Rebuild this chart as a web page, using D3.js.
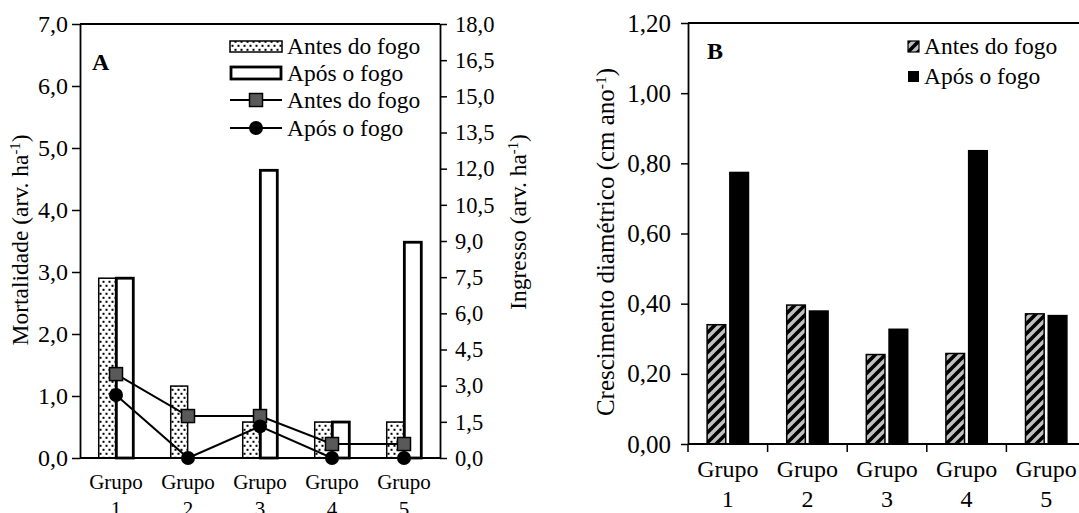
<!DOCTYPE html>
<html>
<head>
<meta charset="utf-8">
<script src="https://cdn.jsdelivr.net/npm/d3@7"></script>
<style>
  body { margin: 0; background: #fff; }
  svg { display: block; }
  svg text { font-family: "Liberation Serif", Tinos, "Times New Roman", "DejaVu Serif", serif; fill: #000; }
</style>
</head>
<body>
<svg id="chart" width="1079" height="513"></svg>
<script>
// Groups shared by both panels
const groups = ["Grupo 1", "Grupo 2", "Grupo 3", "Grupo 4", "Grupo 5"];
const periods = ["Antes do fogo", "Após o fogo"];

// Panel A – mortality (bars, left axis) and recruitment (lines, right axis), trees per ha
const mortalidadeAntes = [2.90, 1.16, 0.58, 0.58, 0.58];
const mortalidadeApos  = [2.90, 0.00, 4.64, 0.58, 3.48];
const ingressoAntes    = [3.48, 1.74, 1.74, 0.58, 0.58];
const ingressoApos     = [2.61, 0.00, 1.31, 0.00, 0.00];

// Panel B – diameter growth, cm per year
const crescimentoAntes = [0.340, 0.396, 0.255, 0.258, 0.371];
const crescimentoApos  = [0.774, 0.379, 0.327, 0.836, 0.366];

// Axis ticks
const mortalidadeTicks = [0, 1, 2, 3, 4, 5, 6, 7];
const ingressoTicks    = [0, 1.5, 3, 4.5, 6, 7.5, 9, 10.5, 12, 13.5, 15, 16.5, 18];
const crescimentoTicks = [0, 0.2, 0.4, 0.6, 0.8, 1.0, 1.2];

const FONT = '"Liberation Serif", Tinos, "Times New Roman", "DejaVu Serif", serif';
const svg = d3.select("#chart").attr("font-family", FONT);
const comma = d => String(d).replace(".", ",");
const fmt1 = v => comma(d3.format(".1f")(v));
const fmt2 = v => comma(d3.format(".2f")(v));

const defs = svg.append("defs");
// dotted fill for "Antes do fogo" bars in panel A
const dots = defs.append("pattern").attr("id", "dots").attr("patternUnits", "userSpaceOnUse")
  .attr("width", 6).attr("height", 8);
dots.append("rect").attr("width", 6).attr("height", 8).attr("fill", "#fff");
dots.append("rect").attr("x", 0.5).attr("y", 0.8).attr("width", 2).attr("height", 2).attr("fill", "#000");
dots.append("rect").attr("x", 3.5).attr("y", 4.8).attr("width", 2).attr("height", 2).attr("fill", "#000");
// diagonal hatch for "Antes do fogo" bars in panel B
const hatch = defs.append("pattern").attr("id", "hatch").attr("patternUnits", "userSpaceOnUse")
  .attr("width", 10).attr("height", 10);
hatch.append("rect").attr("width", 10).attr("height", 10).attr("fill", "#c0c0c0");
hatch.append("path").attr("d", "M-2,12 L12,-2 M-7,7 L7,-7 M3,17 L17,3")
  .attr("stroke", "#000").attr("stroke-width", 3.6);

const FS = 23.5;

function twoLineLabels(g, x, yTop, lineGap, size) {
  groups.forEach(name => {
    const parts = name.split(" ");
    const cx = x(name) + x.bandwidth() / 2;
    const t = g.append("text").attr("text-anchor", "middle").attr("font-size", size)
      .attr("font-family", FONT).attr("x", cx).attr("y", yTop);
    t.append("tspan").attr("x", cx).text(parts[0]);
    t.append("tspan").attr("x", cx).attr("dy", lineGap).text(parts[1]);
  });
}

function styleAxis(sel, size) {
  sel.attr("font-family", FONT);
  sel.selectAll(".domain").attr("stroke", "#000").attr("stroke-width", 1.8);
  sel.selectAll(".tick line").attr("stroke", "#000").attr("stroke-width", 1.5);
  sel.selectAll(".tick text").attr("font-size", size).attr("font-family", FONT);
}

function axisTitle(x, y, main, tail, size) {
  const t = svg.append("text").attr("transform", `translate(${x},${y}) rotate(-90)`)
    .attr("text-anchor", "middle").attr("font-size", size).attr("font-family", FONT);
  t.append("tspan").text(main);
  t.append("tspan").attr("dy", -8).attr("font-size", size * 0.62).text("-1");
  t.append("tspan").attr("dy", 8).text(tail);
}

function label(g, x, y, txt, size, bold) {
  return g.append("text").attr("x", x).attr("y", y).attr("font-size", size)
    .attr("font-family", FONT).attr("font-weight", bold ? "bold" : null).text(txt);
}

// ---------------- Panel A ----------------
(function panelA() {
  const left = 80, right = 440, top = 24, bottom = 458;
  const x0 = d3.scaleBand().domain(groups).range([left, right]).paddingInner(0.52).paddingOuter(0.26);
  const x1 = d3.scaleBand().domain(periods).range([0, x0.bandwidth()]).paddingInner(0.04);
  const yL = d3.scaleLinear().domain([0, 7]).range([bottom, top]);
  const yR = d3.scaleLinear().domain([0, 18]).range([bottom, top]);
  const g = svg.append("g");

  // bars
  const bars = groups.map((grp, i) => [
    { grp, period: periods[0], v: mortalidadeAntes[i] },
    { grp, period: periods[1], v: mortalidadeApos[i] }
  ]).flat().filter(d => d.v > 0);
  g.selectAll("rect.bar").data(bars).join("rect")
    .attr("x", d => x0(d.grp) + x1(d.period))
    .attr("y", d => yL(d.v))
    .attr("width", x1.bandwidth())
    .attr("height", d => bottom - yL(d.v))
    .attr("fill", d => d.period === periods[0] ? "url(#dots)" : "#fff")
    .attr("stroke", "#000")
    .attr("stroke-width", d => d.period === periods[0] ? 1.5 : 2.8);

  // frame: top border and baseline
  g.append("line").attr("x1", left).attr("x2", right).attr("y1", top).attr("y2", top)
    .attr("stroke", "#000").attr("stroke-width", 1.8);
  g.append("line").attr("x1", left).attr("x2", right).attr("y1", bottom).attr("y2", bottom)
    .attr("stroke", "#000").attr("stroke-width", 1.8);

  const axL = g.append("g").attr("transform", `translate(${left},0)`)
    .call(d3.axisLeft(yL).tickValues(mortalidadeTicks).tickFormat(fmt1).tickSize(8).tickSizeOuter(0).tickPadding(4));
  styleAxis(axL, 24);
  const axR = g.append("g").attr("transform", `translate(${right},0)`)
    .call(d3.axisRight(yR).tickValues(ingressoTicks).tickFormat(fmt1).tickSize(7).tickSizeOuter(0).tickPadding(8));
  styleAxis(axR, 22.5);

  // recruitment lines
  const cx = grp => x0(grp) + x0.bandwidth() / 2;
  const line = d3.line().x(d => cx(d.grp)).y(d => yR(d.v));
  const sA = groups.map((grp, i) => ({ grp, v: ingressoAntes[i] }));
  const sP = groups.map((grp, i) => ({ grp, v: ingressoApos[i] }));
  g.append("path").datum(sA).attr("d", line).attr("fill", "none").attr("stroke", "#000").attr("stroke-width", 2);
  g.append("path").datum(sP).attr("d", line).attr("fill", "none").attr("stroke", "#000").attr("stroke-width", 2);
  g.selectAll("rect.sq").data(sA).join("rect")
    .attr("x", d => cx(d.grp) - 6.5).attr("y", d => yR(d.v) - 6.5)
    .attr("width", 13).attr("height", 13)
    .attr("fill", "#595959").attr("stroke", "#000").attr("stroke-width", 1.5);
  g.selectAll("circle.pt").data(sP).join("circle")
    .attr("cx", d => cx(d.grp)).attr("cy", d => yR(d.v)).attr("r", 7).attr("fill", "#000");

  twoLineLabels(g, x0, 489, 27, 21);

  label(g, 92, 70, "A", 24, true);

  // legend
  const lx = 230, lw = 52, tx = 287;
  const lg = g.append("g");
  lg.append("rect").attr("x", lx).attr("y", 41).attr("width", lw).attr("height", 11)
    .attr("fill", "url(#dots)").attr("stroke", "#000").attr("stroke-width", 1.5);
  label(lg, tx, 54, periods[0], FS);
  lg.append("rect").attr("x", lx + 1).attr("y", 67).attr("width", lw - 2).attr("height", 12)
    .attr("fill", "#fff").attr("stroke", "#000").attr("stroke-width", 2.8);
  label(lg, tx, 81, periods[1], FS);
  lg.append("line").attr("x1", lx).attr("x2", lx + lw).attr("y1", 100).attr("y2", 100)
    .attr("stroke", "#000").attr("stroke-width", 2);
  lg.append("rect").attr("x", lx + lw / 2 - 6.5).attr("y", 93.5).attr("width", 13).attr("height", 13)
    .attr("fill", "#595959").attr("stroke", "#000").attr("stroke-width", 1.5);
  label(lg, tx, 108, periods[0], FS);
  lg.append("line").attr("x1", lx).attr("x2", lx + lw).attr("y1", 128).attr("y2", 128)
    .attr("stroke", "#000").attr("stroke-width", 2);
  lg.append("circle").attr("cx", lx + lw / 2).attr("cy", 128).attr("r", 7).attr("fill", "#000");
  label(lg, tx, 136, periods[1], FS);

  axisTitle(28, 240, "Mortalidade (arv. ha", ")", 23.5);
  axisTitle(526, 222, "Ingresso (arv. ha", ")", 23.5);
})();

// ---------------- Panel B ----------------
(function panelB() {
  const left = 688, right = 1086, top = 23, bottom = 444;
  const x0 = d3.scaleBand().domain(groups).range([left, right]).paddingInner(0.48).paddingOuter(0.24);
  const x1 = d3.scaleBand().domain(periods).range([0, x0.bandwidth()]).paddingInner(0.18);
  const y = d3.scaleLinear().domain([0, 1.2]).range([bottom, top]);
  const g = svg.append("g");

  const bars = groups.map((grp, i) => [
    { grp, period: periods[0], v: crescimentoAntes[i] },
    { grp, period: periods[1], v: crescimentoApos[i] }
  ]).flat();
  g.selectAll("rect.bar").data(bars).join("rect")
    .attr("x", d => x0(d.grp) + x1(d.period))
    .attr("y", d => y(d.v))
    .attr("width", x1.bandwidth())
    .attr("height", d => bottom - y(d.v))
    .attr("fill", d => d.period === periods[0] ? "url(#hatch)" : "#000")
    .attr("stroke", "#000").attr("stroke-width", 1.5);

  g.append("line").attr("x1", left).attr("x2", right).attr("y1", top).attr("y2", top)
    .attr("stroke", "#000").attr("stroke-width", 1.8);
  g.append("line").attr("x1", left).attr("x2", right).attr("y1", bottom).attr("y2", bottom)
    .attr("stroke", "#000").attr("stroke-width", 1.8);
  // category separators below the axis
  const bounds = d3.range(groups.length + 1).map(i => x0.range()[0] + i * x0.step());
  g.selectAll("line.sep").data(bounds).join("line")
    .attr("x1", d => d).attr("x2", d => d).attr("y1", bottom).attr("y2", bottom + 8)
    .attr("stroke", "#000").attr("stroke-width", 1.5);

  const axL = g.append("g").attr("transform", `translate(${left},0)`)
    .call(d3.axisLeft(y).tickValues(crescimentoTicks).tickFormat(fmt2).tickSize(7).tickSizeOuter(0).tickPadding(10));
  styleAxis(axL, 25);

  twoLineLabels(g, x0, 477, 30, 24);

  label(g, 707, 59, "B", 24, true);

  // legend
  const lg = g.append("g");
  lg.append("rect").attr("x", 908).attr("y", 41).attr("width", 11).attr("height", 11)
    .attr("fill", "url(#hatch)").attr("stroke", "#000").attr("stroke-width", 1.2);
  label(lg, 924, 54, periods[0], FS);
  lg.append("rect").attr("x", 908).attr("y", 71).attr("width", 11).attr("height", 11).attr("fill", "#000");
  label(lg, 924, 84, periods[1], FS);

  axisTitle(614, 242, "Crescimento diamétrico (cm ano", ")", 25);
})();
</script>
</body>
</html>
